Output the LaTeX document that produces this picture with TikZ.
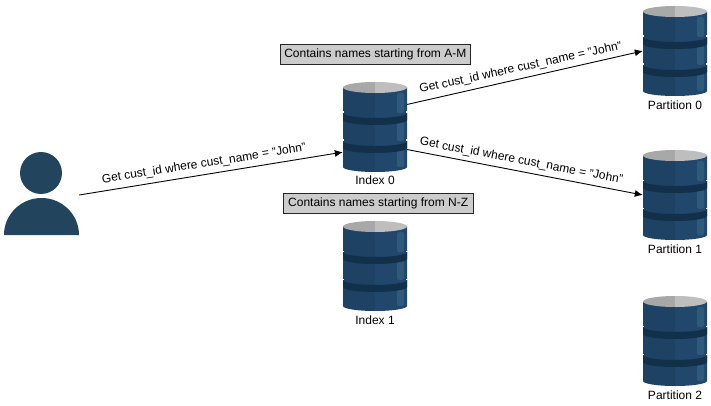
\documentclass[tikz,border=0pt]{standalone}
\usepackage{fontspec}
\setmainfont{Liberation Sans}
\usepackage{tikz}
\usetikzlibrary{positioning, arrows.meta}

\definecolor{dbleft}{HTML}{1D4263}
\definecolor{dbright}{HTML}{21486C}
\definecolor{dbband}{HTML}{12304A}
\definecolor{dbshine}{HTML}{2F5A7C}
\definecolor{dbtopl}{HTML}{A8A8A8}
\definecolor{dbtopr}{HTML}{BEBEBE}
\definecolor{usercol}{HTML}{23445D}

\begin{document}
\begin{tikzpicture}[
    x=1pt, y=-1pt,
    >=Latex,
    note/.style={rectangle, draw=black!85, line width=0.9pt, fill=black!20, inner sep=0pt,
        minimum height=20pt, align=center, font=\fontsize{12}{14}\selectfont},
    label/.style={font=\fontsize{12}{14}\selectfont, inner sep=1pt},
    query/.style={font=\fontsize{12}{14}\selectfont, inner sep=0pt},
    link/.style={-{Latex[length=8pt,width=7pt]}, line width=0.9pt},
    dbbox/.style={rectangle, minimum width=64pt, minimum height=90pt, inner sep=0pt},
    db/.pic={
        % body, darker half first
        \fill[dbleft] (0,45) arc[x radius=32, y radius=5, start angle=90, end angle=180]
            -- (-32,-39.5) -- (0,-39.5) -- cycle;
        \fill[dbright] (0,45) arc[x radius=32, y radius=5, start angle=90, end angle=0]
            -- (32,-39.5) -- (0,-39.5) -- cycle;
        % highlight strips
        \foreach \ty/\by in {-34/-14, -6/14, 22/40}
            \fill[dbshine, rounded corners=2pt] (22,\ty) rectangle (29,\by);
        % bands
        \foreach \yy in {-14, 14}{
            \fill[dbband] (-32,\yy) arc[x radius=32, y radius=5, start angle=180, end angle=0]
                -- (32,\yy+7) arc[x radius=32, y radius=5, start angle=0, end angle=180] -- cycle;
            \fill[white] (-32.5,\yy-1.5) rectangle (-31.2,\yy-0.2);
            \fill[white] (31.2,\yy-1.5) rectangle (32.5,\yy-0.2);
        }
        % lid
        \fill[dbtopl] (0,-45) arc[x radius=32, y radius=5.5, start angle=270, end angle=90] -- cycle;
        \fill[dbtopr] (0,-45) arc[x radius=32, y radius=5.5, start angle=-90, end angle=90] -- cycle;
        \node[dbbox] (-box) at (0,0) {};
    }
]

\useasboundingbox (0,0) rectangle (711,406);

% the customer
\fill[usercol] (41,173) circle[radius=21];
\fill[usercol] (4,235) arc[x radius=37.5, y radius=37, start angle=180, end angle=360] -- cycle;
\node[rectangle, minimum width=75pt, minimum height=83pt, inner sep=0pt] (user) at (41.5,195) {};

\pic (I0) at (375,127) {db};
\pic (I1) at (375,266) {db};
\pic (P0) at (675,51) {db};
\pic (P1) at (675,195) {db};
\pic (P2) at (675,341) {db};

\node[label] (I0t) at (375,180) {Index 0};
\node[label] (I1t) at (375,320) {Index 1};
\node[label] (P0t) at (675,105) {Partition 0};
\node[label] (P1t) at (675,249) {Partition 1};
\node[label] (P2t) at (675,395) {Partition 2};

\node[note, minimum width=190pt] (am) at (375.3,54) {Contains names starting from A-M};
\node[note, minimum width=190pt] (nz) at (378.2,203) {Contains names starting from N-Z};

\draw[link] (user.east) -- (I0-box.218.8);
\draw[link] (I0-box.35) -- (P0-box.west);
\draw[link] (I0-box.-35) -- (P1-box.west);

\node[query, rotate=9] (q0) at (204,164) {Get cust\_id where cust\_name = "John"};
\node[query, rotate=12.2] (q1) at (520.7,68) {Get cust\_id where cust\_name = "John"};
\node[query, rotate=-10.8] (q2) at (521.3,161) {Get cust\_id where cust\_name = "John"};

\end{tikzpicture}
\end{document}
